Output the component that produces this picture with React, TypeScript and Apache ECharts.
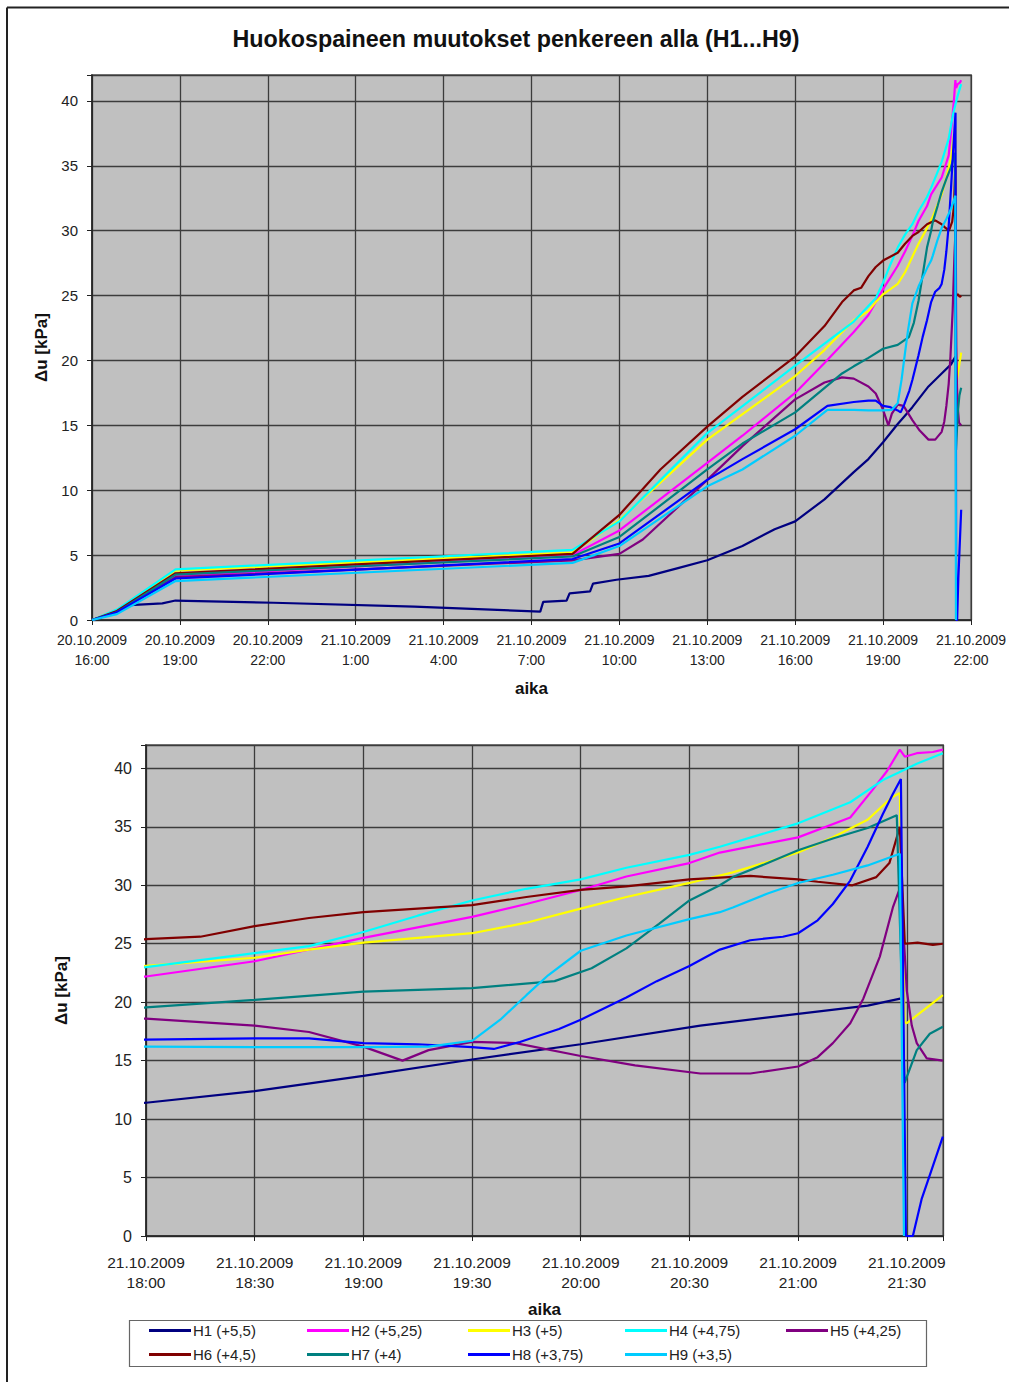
import React, { useEffect, useRef } from "react";
import * as echarts from "echarts";

// time axis: hours since 20.10.2009 16:00
const TITLE = "Huokospaineen muutokset penkereen alla (H1...H9)";
const X_NAME = "aika";
const Y_NAME = "Δu [kPa]";

const SERIES_NAMES = [
  "H1 (+5,5)",
  "H2 (+5,25)",
  "H3 (+5)",
  "H4 (+4,75)",
  "H5 (+4,25)",
  "H6 (+4,5)",
  "H7 (+4)",
  "H8 (+3,75)",
  "H9 (+3,5)",
];
const SERIES_COLORS = [
  "#000080",
  "#FF00FF",
  "#FFFF00",
  "#00FFFF",
  "#800080",
  "#800000",
  "#008080",
  "#0000FF",
  "#00CCFF",
];

const H1: [number, number][] = [
  [0, 0], [0.85, 0.6], [1.3, 1.15], [2.4, 1.28], [2.85, 1.5], [6.2, 1.33], [11, 1.03],
  [15.3, 0.65], [15.4, 1.4], [16.2, 1.5], [16.3, 2.05], [17.0, 2.2], [17.1, 2.8], [17.9, 3.1],
  [19.0, 3.4], [20.0, 4.0], [21.0, 4.6], [22.2, 5.7], [23.3, 7.0], [24.0, 7.6], [25.0, 9.3],
  [26, 11.4], [26.5, 12.4], [27, 13.7], [27.5, 15.1], [28, 16.4], [28.55, 18.0], [29, 19.0],
  [29.32, 19.7], [29.47, 20.3],
];
const H2: [number, number][] = [
  [0, 0], [0.85, 0.6], [2.85, 3.4], [16.4, 5.0], [18, 6.9], [21, 12.1], [22.2, 14.2], [24, 17.5],
  [25, 19.8], [26, 22.2], [26.5, 23.5], [27, 25.5], [27.5, 27.3], [27.75, 28.4], [28, 29.6],
  [28.21, 30.75], [28.5, 31.9], [28.64, 32.8], [29, 34.1], [29.24, 35.8], [29.34, 38.1],
  [29.41, 39.8], [29.468, 41.6], [29.491, 41.0], [29.546, 41.3], [29.62, 41.4], [29.666, 41.6],
];
const H3: [number, number][] = [
  [0, 0], [0.85, 0.75], [2.85, 3.8], [16.4, 5.2], [18, 7.7], [21, 13.9], [24, 18.8], [25, 20.8],
  [26, 23.1], [26.5, 23.8], [26.75, 24.5], [27, 25.1], [27.5, 25.9], [27.75, 26.8], [28, 28.0],
  [28.21, 29.0], [28.5, 30.2], [28.7, 31.1], [29, 32.8], [29.16, 34.1], [29.32, 35.6],
  [29.43, 37.5], [29.468, 37.9], [29.49, 18.3], [29.5, 18.2], [29.666, 20.6],
];
const H4: [number, number][] = [
  [0, 0], [0.85, 0.8], [2.85, 3.9], [16.4, 5.4], [18, 7.6], [21, 14.4], [24, 19.6], [25, 21.3],
  [26, 23.0], [26.5, 24.2], [26.75, 24.8], [27, 26.0], [27.25, 27.4], [27.5, 28.7], [27.75, 29.7],
  [28, 30.5], [28.21, 31.5], [28.5, 32.6], [28.64, 33.3], [29, 35.3], [29.24, 37.1], [29.39, 39.0],
  [29.468, 39.7], [29.546, 40.4], [29.666, 41.3],
];
const H5: [number, number][] = [
  [0, 0], [0.85, 0.6], [2.85, 3.3], [16.4, 4.6], [18, 5.1], [18.8, 6.2], [21, 10.8], [22.2, 13.4],
  [24, 17.0], [25, 18.3], [25.6, 18.7], [26, 18.6], [26.5, 18.0], [26.75, 17.45], [27, 16.2],
  [27.18, 15.0], [27.3, 15.9], [27.5, 16.6], [27.7, 16.5], [28, 15.4], [28.25, 14.6], [28.55, 13.9],
  [28.78, 13.9], [29, 14.5], [29.09, 15.3], [29.16, 16.5], [29.24, 18.2], [29.3, 20.3],
  [29.376, 23.9], [29.436, 28.1], [29.473, 30.0], [29.482, 27.0], [29.5, 21.0], [29.523, 18.0],
  [29.546, 16.5], [29.592, 15.2], [29.666, 15.0],
];
const H6: [number, number][] = [
  [0, 0], [0.85, 0.7], [2.85, 3.6], [16.4, 5.1], [18, 8.1], [19.4, 11.6], [21, 14.9], [22.2, 17.2],
  [24, 20.3], [25, 22.65], [25.6, 24.5], [26, 25.4], [26.25, 25.6], [26.5, 26.5], [26.75, 27.2],
  [27, 27.7], [27.5, 28.3], [27.75, 29.0], [28, 29.6], [28.21, 29.9], [28.5, 30.5], [28.78, 30.8],
  [29, 30.5], [29.09, 30.3], [29.25, 30.0], [29.36, 30.7], [29.42, 31.9], [29.468, 35.0],
  [29.491, 25.0], [29.55, 25.1], [29.62, 24.9], [29.666, 25.0],
];
const H7: [number, number][] = [
  [0, 0], [0.85, 0.6], [2.85, 3.5], [16.4, 4.9], [18, 6.4], [21, 11.6], [22.2, 13.6], [24, 16.0],
  [25.6, 19.0], [26, 19.55], [26.5, 20.2], [27, 20.9], [27.5, 21.2], [27.88, 21.8], [28.05, 22.9],
  [28.21, 24.6], [28.36, 26.7], [28.5, 28.7], [28.64, 30.0], [28.7, 30.7], [28.86, 31.9],
  [29, 33.0], [29.16, 34.0], [29.32, 34.9], [29.454, 36.0], [29.49, 13.1], [29.546, 15.9],
  [29.606, 17.3], [29.666, 17.9],
];
const H8: [number, number][] = [
  [0, 0], [0.85, 0.6], [2.85, 3.2], [16.4, 4.7], [18, 5.9], [21, 10.8], [22.2, 12.4], [24, 14.7],
  [25.1, 16.5], [26, 16.8], [26.5, 16.9], [26.75, 16.9], [27, 16.5], [27.25, 16.4], [27.5, 16.15],
  [27.6, 16.0], [27.72, 16.6], [27.9, 17.7], [28, 18.5], [28.21, 20.4], [28.35, 21.8], [28.5, 23.1],
  [28.64, 24.5], [28.78, 25.3], [28.93, 25.6], [29, 25.9], [29.09, 27.0], [29.16, 28.4],
  [29.24, 30.4], [29.32, 33.3], [29.39, 36.1], [29.436, 37.8], [29.473, 39.1], [29.496, 0],
  [29.528, 0], [29.569, 3.2], [29.606, 5.2], [29.666, 8.5],
];
const H9: [number, number][] = [
  [0, 0], [0.85, 0.45], [2.85, 3.0], [16.4, 4.4], [18, 5.7], [21, 10.3], [22.2, 11.6], [24, 14.2],
  [25.1, 16.2], [26, 16.2], [26.5, 16.15], [27, 16.15], [27.3, 16.2], [27.5, 16.7], [27.63, 18.5],
  [27.75, 20.6], [27.85, 22.3], [28, 24.4], [28.21, 25.7], [28.5, 27.1], [28.64, 27.7],
  [28.7, 28.1], [28.86, 29.3], [29, 30.2], [29.16, 30.9], [29.32, 31.7], [29.468, 32.7],
  [29.487, 0],
];
const SERIES_DATA = [H1, H2, H3, H4, H5, H6, H7, H8, H9];

const TOP_X_MIN = 0;
const TOP_X_MAX = 30;
const TOP_X_STEP = 3;
const BOTTOM_X_MIN = 26;
const BOTTOM_X_MAX = 29 + 40 / 60;
const BOTTOM_X_STEP = 0.5;
const Y_MIN = 0;
const Y_MAX = 42;
const Y_STEP = 5;

const FONT = "'Liberation Sans', Arial, sans-serif";

// legend layout (pixel columns/rows of the legend box)
const LEGEND_COLS = [149, 307, 468, 625, 786];
const LEGEND_ROWS = [1323, 1347];

function fmtTime(t: number, step: number): string {
  const k = t / step;
  if (Math.abs(k - Math.round(k)) > 1e-6) return "";
  const mins = Math.round((16 + t) * 60);
  const day = 20 + Math.floor(mins / 1440);
  const m = mins % 1440;
  const hh = Math.floor(m / 60);
  const mm = m % 60;
  return `${day}.10.2009\n${hh}:${mm < 10 ? "0" + mm : mm}`;
}

function fmtY(v: number): string {
  return Math.abs(v % Y_STEP) < 1e-6 ? String(v) : "";
}

export default function App() {
  const ref = useRef<HTMLDivElement>(null);
  useEffect(() => {
    if (!ref.current) return;
    const chart = echarts.init(ref.current, undefined, { renderer: "svg" });

    const gridCommon = {
      show: true,
      backgroundColor: "#C0C0C0",
      borderColor: "#808080",
      borderWidth: 2,
    };
    const splitLine = { show: true, lineStyle: { color: "#3c3c3c", width: 1.3 } };
    const axisLine = { show: true, onZero: false, lineStyle: { color: "#222", width: 1.5 } };
    const axisTick = { show: true, length: 5, lineStyle: { color: "#222", width: 1 } };
    const nameStyle = { fontSize: 17, fontWeight: "bold", color: "#111", fontFamily: FONT };

    const mkX = (gi: number, min: number, max: number, step: number, fs: number, margin: number, gap: number) => ({
      type: "value",
      gridIndex: gi,
      min,
      max,
      interval: step,
      axisLine,
      axisTick,
      splitLine,
      axisLabel: {
        formatter: (v: number) => fmtTime(v, step),
        fontSize: fs,
        lineHeight: 20,
        color: "#222",
        margin,
        fontFamily: FONT,
        showMaxLabel: true,
        showMinLabel: true,
        hideOverlap: false,
      },
      name: X_NAME,
      nameLocation: "middle",
      nameGap: gap,
      nameTextStyle: nameStyle,
    });
    const mkY = (gi: number, fs: number, gap: number) => ({
      type: "value",
      gridIndex: gi,
      min: Y_MIN,
      max: Y_MAX,
      interval: Y_STEP,
      axisLine,
      axisTick,
      splitLine,
      axisLabel: { formatter: fmtY, fontSize: fs, color: "#222", margin: 14, fontFamily: FONT },
      name: Y_NAME,
      nameLocation: "middle",
      nameRotate: 90,
      nameGap: gap,
      nameTextStyle: nameStyle,
    });

    const series: any[] = [];
    [0, 1].forEach((gi) => {
      SERIES_NAMES.forEach((name, i) => {
        series.push({
          type: "line",
          name,
          xAxisIndex: gi,
          yAxisIndex: gi,
          data: SERIES_DATA[i],
          symbol: "none",
          showSymbol: false,
          clip: true,
          silent: true,
          lineStyle: { width: 2.2, color: SERIES_COLORS[i] },
          itemStyle: { color: SERIES_COLORS[i] },
        });
      });
    });

    const legends = SERIES_NAMES.map((name, i) => ({
      left: LEGEND_COLS[i % 5],
      top: LEGEND_ROWS[Math.floor(i / 5)],
      padding: 0,
      itemGap: 0,
      itemWidth: 42,
      itemHeight: 3,
      icon: "rect",
      selectedMode: false,
      data: [name],
      textStyle: { fontSize: 15, color: "#222", fontFamily: FONT, padding: [0, 0, 0, -3] },
    }));

    chart.setOption({
      animation: false,
      backgroundColor: "#ffffff",
      grid: [
        { left: 92, top: 75, width: 885, height: 545, ...gridCommon },
        { left: 146, top: 745, width: 797, height: 491, ...gridCommon },
      ],
      xAxis: [
        mkX(0, TOP_X_MIN, TOP_X_MAX, TOP_X_STEP, 14, 10, 60),
        mkX(1, BOTTOM_X_MIN, BOTTOM_X_MAX, BOTTOM_X_STEP, 15.5, 16, 65),
      ],
      yAxis: [mkY(0, 15, 41), mkY(1, 16, 76)],
      legend: legends,
      graphic: [
        {
          type: "text",
          x: 516,
          y: 39,
          style: {
            text: TITLE,
            fontSize: 23.3,
            fontWeight: "bold",
            fontFamily: FONT,
            fill: "#111",
            textAlign: "center",
            textVerticalAlign: "middle",
          },
        },
        {
          type: "rect",
          shape: { x: 129.5, y: 1320.5, width: 797, height: 46 },
          style: { fill: "none", stroke: "#666", lineWidth: 1.2 },
        },
        {
          type: "line",
          shape: { x1: 7, y1: 7.5, x2: 1009, y2: 7.5 },
          style: { stroke: "#222", lineWidth: 2 },
        },
        {
          type: "line",
          shape: { x1: 7, y1: 7.5, x2: 7, y2: 1382 },
          style: { stroke: "#222", lineWidth: 2 },
        },
      ],
      series,
    });
    return () => chart.dispose();
  }, []);
  return (
    <div
      ref={ref}
      style={{ position: "absolute", left: 0, top: 0, width: 1009, height: 1382, background: "#fff" }}
    />
  );
}
